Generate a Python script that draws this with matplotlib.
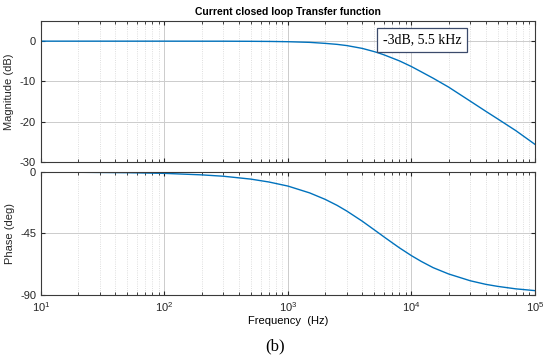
import numpy as np
import matplotlib
matplotlib.use("Agg")
from matplotlib import pyplot as plt
from matplotlib.ticker import LogLocator, NullFormatter

# values
freq = [10, 20, 50, 100, 200, 300, 500, 700, 1000, 1500, 2000, 2500, 3000,
        4000, 5000, 5500, 6000, 7000, 8000, 10000, 12000, 15000, 20000, 30000,
        40000, 50000, 70000, 100000]
mag_db = [0, 0, 0, 0, -0.01, -0.01, -0.04, -0.07, -0.14, -0.3, -0.55, -0.8,
          -1.1, -1.8, -2.6, -3.0, -3.4, -4.2, -4.9, -6.3, -7.6, -9.2, -11.4,
          -14.9, -17.4, -19.3, -22.2, -25.6]
phase_deg = [-0.1, -0.2, -0.5, -1.0, -2.1, -3.1, -5.2, -7.3, -10.3, -15.3,
             -20.0, -24.4, -28.6, -36.0, -42.3, -45.0, -47.5, -51.8, -55.5,
             -61.2, -65.4, -70.0, -74.6, -79.6, -82.2, -83.7, -85.5, -86.8]

plt.rcParams['font.family'] = ['Liberation Sans', 'DejaVu Sans']
plt.rcParams['font.size'] = 8
plt.rcParams['axes.unicode_minus'] = False

fig = plt.figure(figsize=(5.5, 3.59), dpi=100)
ax1 = fig.add_axes([0.0745, 0.5487, 0.898, 0.3928])
ax2 = fig.add_axes([0.0745, 0.1783, 0.898, 0.3426])

line_col = '#0072BD'
tick_col = '#262626'

for ax in (ax1, ax2):
    ax.set_xscale('log')
    ax.set_xlim(10, 1e5)
    ax.xaxis.set_major_locator(LogLocator(base=10, numticks=10))
    ax.xaxis.set_minor_locator(LogLocator(base=10, subs=np.arange(2, 10), numticks=10))
    ax.xaxis.set_minor_formatter(NullFormatter())
    ax.grid(True, which='major', color='#cccccc', linewidth=0.7)
    ax.grid(True, which='minor', color='#d4d4d4', linestyle=':', linewidth=0.6)
    ax.tick_params(which='both', direction='in', top=True, right=True,
                   colors=tick_col, labelcolor=tick_col, labelsize=8)
    ax.tick_params(which='major', length=3)
    ax.tick_params(which='minor', length=2)
    for s in ax.spines.values():
        s.set_color('#3a3a3a')
        s.set_linewidth(0.8)
    ax.set_axisbelow(True)

ax1.plot(freq, mag_db, color=line_col, linewidth=1.0)
ax1.set_ylim(-30, 5)
ax1.set_yticks([0, -10, -20, -30])
ax1.tick_params(axis='x', labelbottom=False)
ax1.set_ylabel("Magnitude (dB)", color=tick_col)
ax1.set_title("Current closed loop Transfer function", fontweight='bold',
              fontsize=7.5, pad=4)
ax1.text(12200, 0.3, "-3dB, 5.5 kHz", family='Liberation Serif', fontsize=10,
         ha='center', va='center',
         bbox=dict(boxstyle='square,pad=0.4', facecolor='white',
                   edgecolor='#3b4a6b', linewidth=0.9))

ax2.plot(freq, phase_deg, color=line_col, linewidth=1.0)
ax2.set_ylim(-90, 0)
ax2.set_yticks([0, -45, -90])
ax2.set_ylabel("Phase (deg)", color=tick_col)
ax2.set_xlabel("Frequency  (Hz)", color='black', labelpad=2)

fig.text(0.5, 0.035, "(b)", family='Liberation Serif', fontsize=12,
         ha='center', va='center')

fig.savefig("out.png", dpi=100)
